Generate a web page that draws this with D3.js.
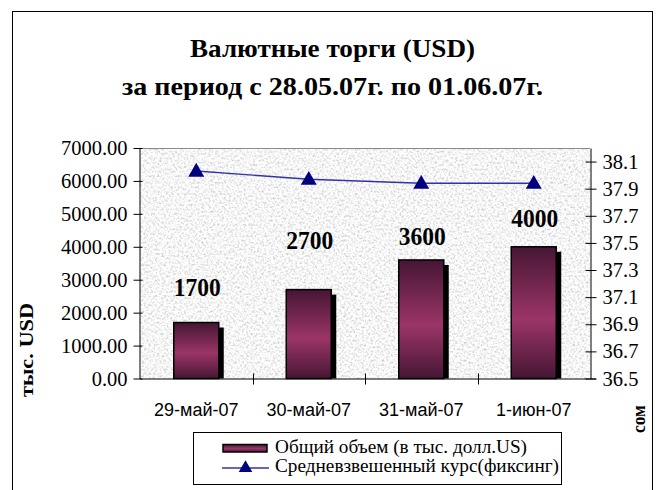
<!DOCTYPE html>
<html><head><meta charset="utf-8">
<script src="https://cdn.jsdelivr.net/npm/d3@7"></script>
<style>body{margin:0;background:#fff}svg{display:block}
.serif{font-family:"Liberation Serif","Times New Roman",Times,"DejaVu Serif",serif}
.sans{font-family:"Liberation Sans",Arial,Helvetica,sans-serif}
</style>
</head><body><svg id="c" width="659" height="490"></svg>
<script>
// ---- data ----
const categories = ["29-май-07", "30-май-07", "31-май-07", "1-июн-07"];
const volume = [1700, 2700, 3600, 4000];          // Общий объем (тыс. USD)
const rate = [38.03, 37.97, 37.94, 37.94];        // Средневзвешенный курс
const volumeTicks = [0, 1000, 2000, 3000, 4000, 5000, 6000, 7000];
const rateTicks = [36.5, 36.7, 36.9, 37.1, 37.3, 37.5, 37.7, 37.9, 38.1];
const titleLines = ["Валютные торги (USD)", "за период с 28.05.07г. по 01.06.07г."];
const seriesNames = ["Общий объем (в тыс. долл.US)", "Средневзвешенный курс(фиксинг)"];
const leftAxisTitle = "тыс. USD";
const rightAxisTitle = "сом";

// ---- layout (not data) ----
const labelLift = [27, 41, 15, 20];   // px above bar top for the value labels
const P = {left: 140, right: 590, top: 148, bottom: 378.5};

const svg = d3.select("#c");
const defs = svg.append("defs");

const f = defs.append("filter").attr("id", "granite")
  .attr("x", 0).attr("y", 0).attr("width", "100%").attr("height", "100%");
f.append("feTurbulence").attr("type", "fractalNoise").attr("baseFrequency", "0.45")
  .attr("numOctaves", 3).attr("seed", 7).attr("result", "n");
f.append("feColorMatrix").attr("in", "n").attr("type", "matrix")
  .attr("values", "0.9 0 0 0 0.47  0.9 0 0 0 0.47  0.9 0 0 0 0.47  0 0 0 0 1");

const g = defs.append("linearGradient").attr("id", "barGrad")
  .attr("x1", 0).attr("y1", 0).attr("x2", 0).attr("y2", 1);
[[0, "#461634"], [0.55, "#9b3567"], [1, "#461634"]].forEach(([o, c]) =>
  g.append("stop").attr("offset", o).attr("stop-color", c));

// outer frame
svg.append("rect").attr("x", 12.5).attr("y", 11.5).attr("width", 640).attr("height", 500)
  .attr("fill", "#fff").attr("stroke", "#000").attr("stroke-width", 1);

// title
const title = svg.append("g").attr("class", "serif")
  .attr("font-weight", "bold").attr("font-size", 26).attr("text-anchor", "middle");
title.append("text").attr("x", 332.5).attr("y", 57).attr("textLength", 285)
  .attr("lengthAdjust", "spacingAndGlyphs").text(titleLines[0]);
title.append("text").attr("x", 332.5).attr("y", 95).attr("textLength", 421)
  .attr("lengthAdjust", "spacingAndGlyphs").text(titleLines[1]);

// plot background
svg.append("rect").attr("x", P.left).attr("y", P.top)
  .attr("width", P.right - P.left).attr("height", P.bottom - P.top)
  .attr("fill", "#ececec").attr("filter", "url(#granite)");
svg.append("line").attr("x1", P.left).attr("x2", P.right).attr("y1", P.top + 0.5).attr("y2", P.top + 0.5)
  .attr("stroke", "#8a8a8a").attr("stroke-width", 1.2);

// scales
const xb = d3.scaleBand().domain(categories).range([P.left, P.right]).padding(0);
const x = d3.scaleBand().domain(categories).range([P.left, P.right]).paddingInner(0.6).paddingOuter(0.3);
const yL = d3.scaleLinear().domain([0, 7000]).range([P.bottom, P.top]);
const yR = d3.scaleLinear().domain([36.5, 38.2]).range([P.bottom, P.top]);

// bars: shadow + gradient bar
const bars = svg.append("g");
bars.selectAll(".sh").data(volume).join("rect").attr("class", "sh")
  .attr("x", (d, i) => x(categories[i]) + 5).attr("y", d => yL(d) + 5)
  .attr("width", x.bandwidth()).attr("height", d => yL(0) - yL(d) - 5).attr("fill", "#000");
bars.selectAll(".bar").data(volume).join("rect").attr("class", "bar")
  .attr("x", (d, i) => x(categories[i])).attr("y", d => yL(d))
  .attr("width", x.bandwidth()).attr("height", d => yL(0) - yL(d))
  .attr("fill", "url(#barGrad)").attr("stroke", "#000").attr("stroke-width", 1.5);

// value labels
svg.append("g").attr("class", "serif")
  .attr("font-weight", "bold").attr("font-size", 25).attr("text-anchor", "middle")
  .selectAll("text").data(volume).join("text")
  .attr("x", (d, i) => x(categories[i]) + x.bandwidth() / 2 + 1)
  .attr("y", (d, i) => yL(d) - labelLift[i])
  .attr("textLength", 47).attr("lengthAdjust", "spacingAndGlyphs")
  .text(d => d);

// rate line
const cx = (i) => x(categories[i]) + x.bandwidth() / 2;
const line = d3.line().x((d, i) => cx(i)).y(d => yR(d));
svg.append("path").datum(rate).attr("d", line).attr("fill", "none")
  .attr("stroke", "#3333a8").attr("stroke-width", 1.4);
const tri = d3.symbol().type(d3.symbolTriangle).size(110);
svg.append("g").selectAll("path").data(rate).join("path")
  .attr("transform", (d, i) => `translate(${cx(i)},${yR(d) + 1})`)
  .attr("d", tri).attr("fill", "#00007f");

// left axis
const axL = svg.append("g").attr("transform", `translate(${P.left - 0.5},0)`)
  .call(d3.axisLeft(yL).tickValues(volumeTicks).tickFormat(d3.format(".2f"))
    .tickSizeInner(6).tickSizeOuter(0).tickPadding(6));
axL.selectAll(".tick line").attr("x1", 3);
axL.select(".domain").attr("stroke", "#000");
axL.attr("font-family", null).attr("font-size", null);
axL.selectAll("text").attr("class", "serif").attr("font-size", 20.5).attr("fill", "#000");

// right axis
const axR = svg.append("g").attr("transform", `translate(${P.right + 0.5},0)`)
  .call(d3.axisRight(yR).tickValues(rateTicks).tickFormat(d3.format(".1f"))
    .tickSizeInner(6).tickSizeOuter(0).tickPadding(6));
axR.selectAll(".tick line").attr("x1", -5);
axR.attr("font-family", null).attr("font-size", null);
axR.selectAll("text").attr("class", "serif").attr("font-size", 20.5).attr("fill", "#000");

// bottom axis (labels centered in bands, ticks on boundaries)
const axB = svg.append("g").attr("transform", `translate(0,${P.bottom})`)
  .call(d3.axisBottom(xb).tickSize(0).tickPadding(37));
axB.select(".domain").remove();
axB.attr("font-family", null).attr("font-size", null);
axB.selectAll("text").attr("class", "sans")
  .attr("font-size", 18).attr("fill", "#000").attr("dy", "0");
svg.append("line").attr("x1", P.left).attr("x2", P.right + 6)
  .attr("y1", P.bottom + 0.5).attr("y2", P.bottom + 0.5).attr("stroke", "#000");
svg.append("g").selectAll("line").data(categories.slice(1)).join("line")
  .attr("x1", d => Math.round(xb(d)) + 0.5).attr("x2", d => Math.round(xb(d)) + 0.5)
  .attr("y1", P.bottom - 5).attr("y2", P.bottom + 6).attr("stroke", "#000");

// axis titles
svg.append("text").attr("transform", "translate(33,350) rotate(-90)").attr("class", "serif")
  .attr("text-anchor", "middle")
  .attr("font-weight", "bold").attr("font-size", 19).attr("textLength", 94)
  .attr("lengthAdjust", "spacingAndGlyphs").text(leftAxisTitle);
svg.append("text").attr("transform", "translate(645,419) rotate(-90)").attr("class", "serif")
  .attr("text-anchor", "middle")
  .attr("font-weight", "bold").attr("font-size", 19).attr("textLength", 28)
  .attr("lengthAdjust", "spacingAndGlyphs").text(rightAxisTitle);

// legend
const lg = svg.append("g");
lg.append("rect").attr("x", 193.5).attr("y", 432.5).attr("width", 368).attr("height", 52)
  .attr("fill", "#fff").attr("stroke", "#000");
lg.append("rect").attr("x", 223).attr("y", 444.5).attr("width", 44).attr("height", 7.5)
  .attr("fill", "url(#barGrad)").attr("stroke", "#000").attr("stroke-width", 1.5);
lg.append("line").attr("x1", 222).attr("x2", 269).attr("y1", 468).attr("y2", 468)
  .attr("stroke", "#3333a8").attr("stroke-width", 1.5);
lg.append("path").attr("d", d3.symbol().type(d3.symbolTriangle).size(80)())
  .attr("transform", "translate(245.5,468)").attr("fill", "#00007f");
const lt = lg.append("g").attr("class", "serif").attr("font-size", 19.5);
lt.append("text").attr("x", 275).attr("y", 453).attr("textLength", 252)
  .attr("lengthAdjust", "spacingAndGlyphs").text(seriesNames[0]);
lt.append("text").attr("x", 275).attr("y", 472).attr("textLength", 284)
  .attr("lengthAdjust", "spacingAndGlyphs").text(seriesNames[1]);
</script></body></html>
